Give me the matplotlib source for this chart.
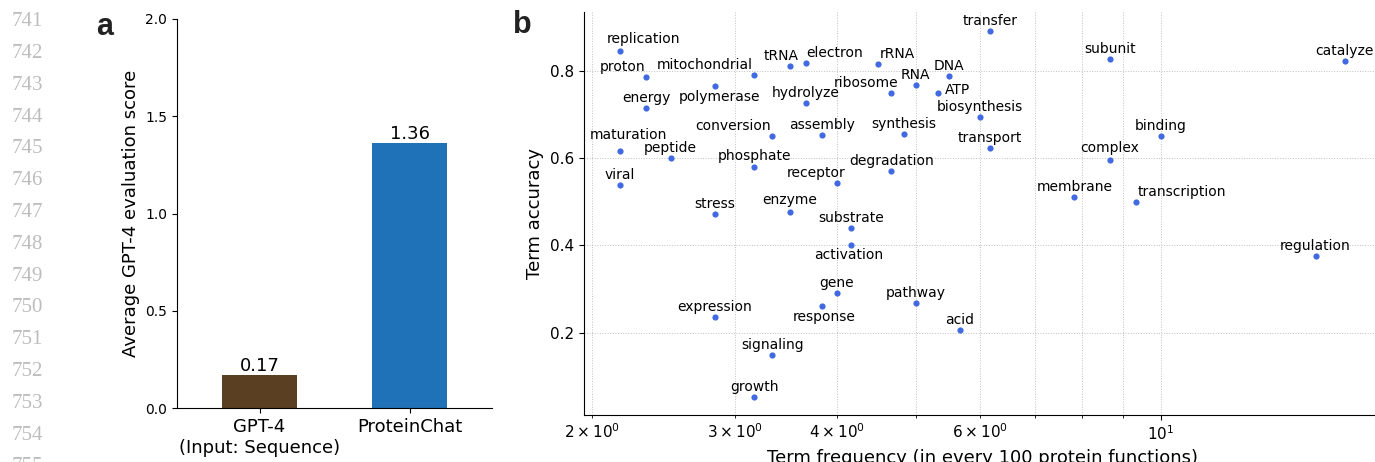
import numpy as np
import matplotlib
matplotlib.use("Agg")
import matplotlib.pyplot as plt
from matplotlib.ticker import LogLocator, LogFormatterSciNotation

# ---------------- data ----------------
models = ["GPT-4\n(Input: Sequence)", "ProteinChat"]
scores = [0.17, 1.36]
bar_colors = ["#5a3f22", "#1f72b8"]

terms = ["replication", "proton", "energy", "mitochondrial", "polymerase", "tRNA",
         "electron", "hydrolyze", "rRNA", "ribosome", "RNA", "conversion", "assembly",
         "synthesis", "maturation", "peptide", "phosphate", "degradation", "receptor",
         "viral", "stress", "enzyme", "substrate", "transfer", "subunit", "catalyze",
         "DNA", "ATP", "biosynthesis", "transport", "binding", "complex", "membrane",
         "transcription", "activation", "gene", "response", "pathway", "expression",
         "acid", "signaling", "growth", "regulation"]
term_freq = [2.167, 2.333, 2.333, 3.167, 2.833, 3.5,
             3.667, 3.667, 4.5, 4.667, 5.0, 3.333, 3.833,
             4.833, 2.167, 2.5, 3.167, 4.667, 4.0,
             2.167, 2.833, 3.5, 4.167, 6.167, 8.667, 16.833,
             5.5, 5.333, 6.0, 6.167, 10.0, 8.667, 7.833,
             9.333, 4.167, 4.0, 3.833, 5.0, 2.833,
             5.667, 3.333, 3.167, 15.5]
term_acc = [0.846, 0.786, 0.714, 0.789, 0.765, 0.810,
            0.818, 0.727, 0.815, 0.750, 0.767, 0.650, 0.652,
            0.655, 0.615, 0.600, 0.579, 0.571, 0.542,
            0.538, 0.471, 0.476, 0.440, 0.892, 0.827, 0.822,
            0.788, 0.750, 0.694, 0.622, 0.650, 0.596, 0.511,
            0.500, 0.400, 0.292, 0.261, 0.267, 0.235,
            0.206, 0.150, 0.053, 0.376]

# label offsets from the point (pixels, +y up); default is straight above
default_offset = (0, 10)
label_offsets = {
    "replication": (23, 12), "proton": (-24, 10), "mitochondrial": (-49, 10),
    "polymerase": (5, -11), "tRNA": (-8, 10), "electron": (29, 10),
    "rRNA": (19, 10), "ribosome": (-25, 10), "conversion": (-39, 10),
    "maturation": (8, 16), "receptor": (-21, 10), "ATP": (19, 3),
    "transcription": (46, 10), "activation": (-3, -10), "response": (3, -11),
    "enzyme": (0, 12), "complex": (0, 12), "phosphate": (0, 11.5),
}

line_numbers = list(range(741, 756))

# ---------------- figure ----------------
W, H = 1375, 462
fig = plt.figure(figsize=(W / 100, H / 100), dpi=100)
plt.rcParams["font.family"] = ["DejaVu Sans"]

def px_axes(left, right, top, bottom):
    return fig.add_axes([left / W, (H - bottom) / H, (right - left) / W, (bottom - top) / H])

# line numbers (manuscript margin)
for i, n in enumerate(line_numbers):
    fig.text(12 / W, 1 - (21.7 + 31.8 * i) / H, str(n), family="Liberation Serif",
             fontsize=15, color="#bdbdbd", ha="left", va="center")

# ---------- panel a ----------
ax1 = px_axes(177, 492, 18.7, 408.3)
xpos = np.arange(len(models))
bars = ax1.bar(xpos, scores, width=0.5, color=bar_colors)
for b, v in zip(bars, scores):
    ax1.annotate(f"{v:.2f}", (b.get_x() + b.get_width() / 2, v), xytext=(0, 0),
                 textcoords="offset points", ha="center", va="bottom", fontsize=13)
ax1.set_xlim(-0.55, 1.55)
ax1.set_ylim(0, 2.0)
ax1.set_yticks([0.0, 0.5, 1.0, 1.5, 2.0])
ax1.set_xticks(xpos)
ax1.set_xticklabels(models, fontsize=13)
ax1.tick_params(axis="y", labelsize=10)
ax1.set_ylabel("Average GPT-4 evaluation score", fontsize=13)
for s in ["top", "right"]:
    ax1.spines[s].set_visible(False)
fig.text(105 / W, 1 - 27 / H, "a", fontsize=22, fontweight="bold", family="Liberation Sans",
         ha="center", va="center", color="#222222")

# ---------- panel b ----------
ax2 = px_axes(584, 1381, 12, 415)
ax2.set_xscale("log")
ax2.scatter(term_freq, term_acc, s=20, color="#4169e1", zorder=3, linewidths=0)
for t, x, y in zip(terms, term_freq, term_acc):
    dx, dy = label_offsets.get(t, default_offset)
    ax2.annotate(t, (x, y), xytext=(dx * 0.72, dy * 0.72), textcoords="offset points",
                 ha="center", va="center", fontsize=10, zorder=4)
ax2.set_xlim(1.957, 18.65)
ax2.set_ylim(0.0115, 0.9344)
ax2.set_yticks([0.2, 0.4, 0.6, 0.8])
ax2.tick_params(axis="both", which="both", labelsize=11)
ax2.grid(True, which="both", linestyle=":", color="#c0c0c0", linewidth=0.7)
ax2.set_axisbelow(True)
ax2.set_xlabel("Term frequency (in every 100 protein functions)", fontsize=13)
ax2.set_ylabel("Term accuracy", fontsize=13)
for s in ["top", "right"]:
    ax2.spines[s].set_visible(False)
fig.text(522 / W, 1 - 25 / H, "b", fontsize=22, fontweight="bold", family="Liberation Sans",
         ha="center", va="center", color="#222222")

fig.savefig("out.png", dpi=100)
